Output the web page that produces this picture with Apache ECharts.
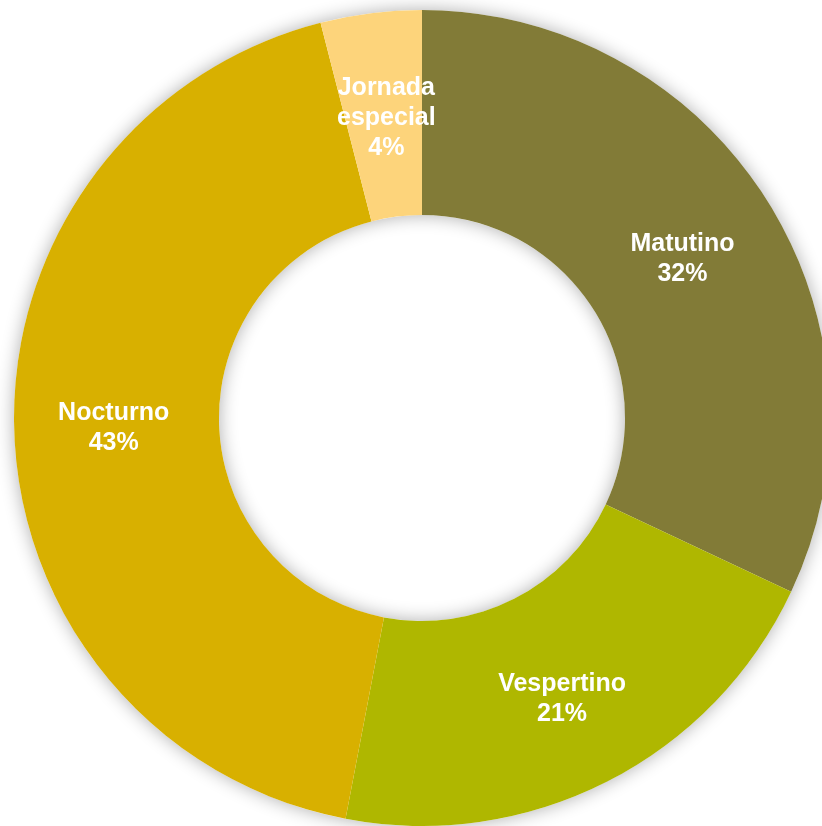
<!DOCTYPE html>
<html>
<head>
<meta charset="utf-8">
<script src="https://cdn.jsdelivr.net/npm/echarts@6/dist/echarts.min.js"></script>
<style>
  html, body { margin: 0; padding: 0; background: #ffffff; }
  #chart { width: 822px; height: 826px; }
</style>
</head>
<body>
<div id="chart"></div>
<script>
// Distribución por jornada
const categories = ['Matutino', 'Vespertino', 'Nocturno', 'Jornada\nespecial'];
const values = [32, 21, 43, 4];
const colors = ['#827B37', '#AFB700', '#D8B000', '#FDD47B'];

const CENTER = [422, 418];
const RADIUS = [203, 408];
// small per-slice nudges for the inside labels
const labelShift = [[0, 6], [0, 6], [0, 0], [3, 6]];

const chart = echarts.init(document.getElementById('chart'), null, { renderer: 'canvas' });

const data = categories.map((name, i) => ({
  name: name,
  value: values[i],
  itemStyle: { color: colors[i] },
  label: { offset: labelShift[i] }
}));

chart.setOption({
  animation: false,
  backgroundColor: '#ffffff',
  series: [
    {
      // soft halo behind the whole ring
      type: 'pie',
      silent: true,
      center: CENTER,
      radius: RADIUS,
      z: 1,
      label: { show: false },
      labelLine: { show: false },
      itemStyle: {
        color: '#ffffff',
        shadowBlur: 18,
        shadowColor: 'rgba(0,0,0,0.32)'
      },
      data: [{ value: 1, name: '' }]
    },
    {
      type: 'pie',
      center: CENTER,
      radius: RADIUS,
      z: 2,
      startAngle: 90,
      clockwise: true,
      avoidLabelOverlap: false,
      itemStyle: { borderWidth: 0 },
      label: {
        show: true,
        position: 'inside',
        formatter: p => p.name + '\n' + p.value + '%',
        color: '#ffffff',
        fontFamily: '"Liberation Sans", Arial, sans-serif',
        fontWeight: 'bold',
        fontSize: 25,
        lineHeight: 30,
        align: 'center'
      },
      labelLine: { show: false },
      emphasis: { disabled: true },
      data: data
    }
  ]
});
</script>
</body>
</html>
